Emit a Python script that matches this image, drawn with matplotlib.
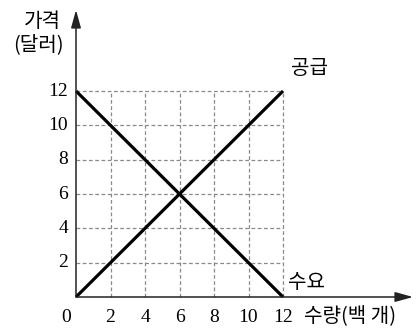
import matplotlib
matplotlib.use("Agg")
import matplotlib.pyplot as plt
import numpy as np

x_ticks = [2, 4, 6, 8, 10, 12]
y_ticks = [2, 4, 6, 8, 10, 12]
supply_q = [0, 12]
supply_p = [0, 12]
demand_q = [0, 12]
demand_p = [12, 0]

KR = ['Noto Sans CJK KR', 'DejaVu Sans']
SERIF = ['Liberation Serif', 'DejaVu Serif']

W, H = 417, 331
ox, oy = 76, 297
ux = (283 - 76) / 12.0
uy = (297 - 91) / 12.0

fig = plt.figure(figsize=(W/100, H/100), dpi=100)
ax = fig.add_axes([0, 0, 1, 1])
ax.set_xlim(-ox/ux, (W-ox)/ux)
ax.set_ylim(-(H-oy)/uy, oy/uy)
ax.axis('off')

# grid
for v in x_ticks:
    ax.plot([v, v], [0, 12], color='#8a8a8a', lw=0.9, ls=(0, (3, 2)))
for v in y_ticks:
    ax.plot([0, 12], [v, v], color='#8a8a8a', lw=0.9, ls=(0, (3, 2)))

# axes with arrows
ax.annotate('', xy=((413-ox)/ux, 0), xytext=(0, 0),
            arrowprops=dict(arrowstyle='-|>,head_length=0.9,head_width=0.25', color='#222222', lw=1.1,
                            mutation_scale=12, shrinkA=0, shrinkB=0))
ax.annotate('', xy=(0, (oy-10)/uy), xytext=(0, 0),
            arrowprops=dict(arrowstyle='-|>,head_length=0.9,head_width=0.25', color='#222222', lw=1.1,
                            mutation_scale=12, shrinkA=0, shrinkB=0))

# curves
ax.plot(supply_q, supply_p, color='black', lw=2.3, solid_capstyle='butt')
ax.plot(demand_q, demand_p, color='black', lw=2.3, solid_capstyle='butt')

# tick labels
ty = -(317-oy)/uy
for v in x_ticks:
    ax.text(v, ty, str(v), ha='center', va='center', fontsize=14, family=SERIF)
ax.text((66-ox)/ux, ty, '0', ha='center', va='center', fontsize=14, family=SERIF)
for v in y_ticks:
    ax.text((68-ox)/ux, v, str(v), ha='right', va='center', fontsize=14, family=SERIF)

# labels
ax.text((42-ox)/ux, (oy-21)/uy, '가격', ha='center', va='center', fontsize=14.5, family=KR)
ax.text((38-ox)/ux, (oy-45)/uy, '(달러)', ha='center', va='center', fontsize=14.5, family=KR)
ax.text((291-ox)/ux, (oy-68)/uy, '공급', ha='left', va='center', fontsize=14.5, family=KR)
ax.text((288-ox)/ux, (oy-283)/uy, '수요', ha='left', va='center', fontsize=14.5, family=KR)
ax.text((304-ox)/ux, ty, '수량(백 개)', ha='left', va='center', fontsize=14.5, family=KR)

fig.savefig('out.png', dpi=100)
